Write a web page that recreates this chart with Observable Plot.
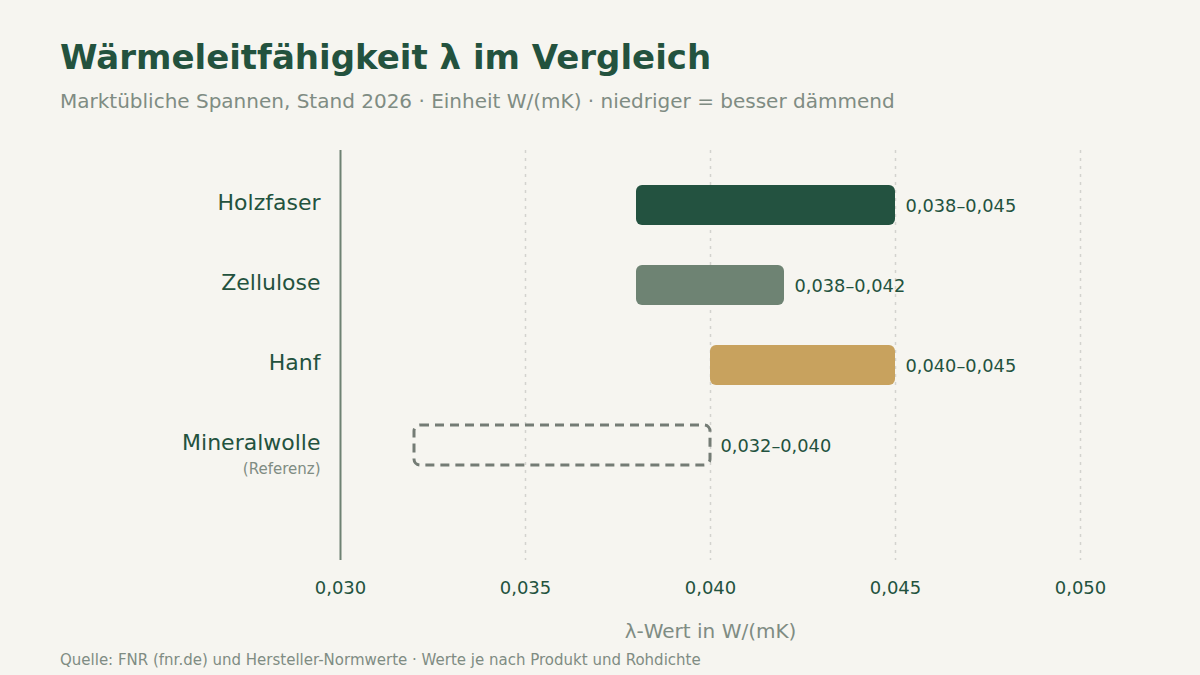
<!DOCTYPE html>
<html>
<head>
<meta charset="utf-8">
<script src="https://cdn.jsdelivr.net/npm/d3@7"></script>
<script src="https://cdn.jsdelivr.net/npm/@observablehq/plot@0.6"></script>
<style>
  html, body { margin: 0; padding: 0; background: #f6f5f0; }
  body { width: 1200px; height: 675px; position: relative; overflow: hidden; font-family: "DejaVu Sans", sans-serif; }
  #chart { position: absolute; left: 0; top: 0; }
  .title { position: absolute; left: 60px; top: 37px; font-size: 34px; font-weight: bold; color: #23523e; white-space: nowrap; }
  .subtitle { position: absolute; left: 60px; top: 89px; font-size: 20px; color: #7f8c83; white-space: nowrap; }
  .caption { position: absolute; left: 60px; top: 651px; font-size: 15px; color: #7f8c83; white-space: nowrap; }
</style>
</head>
<body>
<div id="chart"></div>
<div class="title">Wärmeleitfähigkeit λ im Vergleich</div>
<div class="subtitle">Marktübliche Spannen, Stand 2026 · Einheit W/(mK) · niedriger = besser dämmend</div>
<div class="caption">Quelle: FNR (fnr.de) und Hersteller-Normwerte · Werte je nach Produkt und Rohdichte</div>
<script>
const materials = ["Holzfaser", "Zellulose", "Hanf", "Mineralwolle"];
const lambdaMin = [0.038, 0.038, 0.040, 0.032];
const lambdaMax = [0.045, 0.042, 0.045, 0.040];
const barColors = ["#235240", "#6e8373", "#c8a25e", "none"];
const xTicks = [0.030, 0.035, 0.040, 0.045, 0.050];
const xLabel = "λ-Wert in W/(mK)";
const referenceNote = "(Referenz)";

const fmt = v => v.toFixed(3).replace(".", ",");
const data = materials.map((m, i) => ({
  material: m, lo: lambdaMin[i], hi: lambdaMax[i], color: barColors[i],
  label: fmt(lambdaMin[i]) + "–" + fmt(lambdaMax[i])
}));
const filled = data.filter(d => d.color !== "none");
const refRows = data.filter(d => d.color === "none");

const dark = "#23523e";
const grey = "#7f8c83";

const plot = Plot.plot({
  width: 1200,
  height: 675,
  marginLeft: 340,
  marginRight: 120,
  marginTop: 150,
  marginBottom: 115,
  style: { background: "transparent", fontFamily: "DejaVu Sans, sans-serif", color: dark },
  x: { domain: [0.030, 0.050] },
  y: { domain: materials, range: [165, 485], paddingInner: 0.5, paddingOuter: 0.25 },
  marks: [
    Plot.ruleX(xTicks.slice(1), { stroke: "#d3d3ce", strokeWidth: 1.5, strokeDasharray: "3,5" }),
    Plot.barX(filled, { x1: "lo", x2: "hi", y: "material", fill: d => d.color, rx: 6 }),
    Plot.barX(refRows, { x1: "lo", x2: "hi", y: "material", fill: "none", stroke: "#747c75", strokeWidth: 3, strokeDasharray: "9,6", rx: 6 }),
    Plot.text(data, { x: "hi", y: "material", text: "label", dx: 10, dy: 1, textAnchor: "start", fontSize: 17.8, fill: dark }),
    Plot.ruleX([0.030], { stroke: "#6e8273", strokeWidth: 2 }),
    Plot.axisX({ ticks: xTicks, tickFormat: fmt, tickSize: 0, tickPadding: 21, fontSize: 18, fill: dark, label: null }),
    Plot.axisY({ tickSize: 0, tickPadding: 20, fontSize: 22, fill: dark, label: null, dy: -3 }),
    Plot.text(refRows, { x: 0.030, y: "material", text: () => referenceNote, dx: -20, dy: 24, textAnchor: "end", fontSize: 15, fill: grey }),
    Plot.text([xLabel], { frameAnchor: "bottom", dy: 77, fontSize: 20, fill: grey })
  ]
});
document.getElementById("chart").appendChild(plot);
</script>
</body>
</html>
